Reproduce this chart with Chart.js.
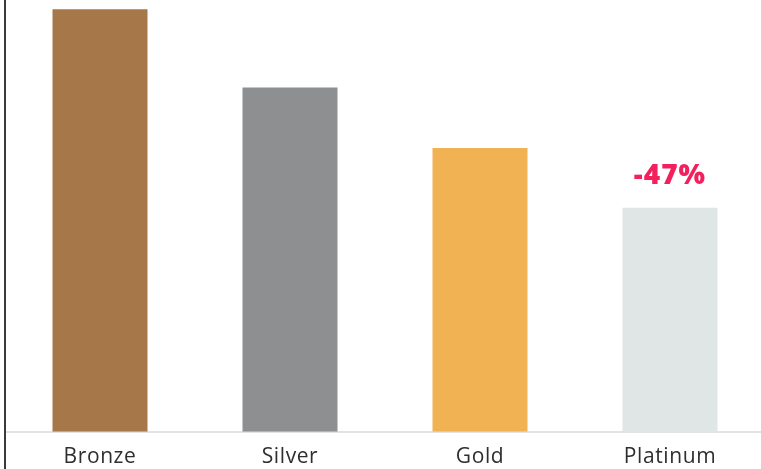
<!DOCTYPE html>
<html>
<head>
<meta charset="utf-8">
<script src="https://cdn.jsdelivr.net/npm/chart.js@4/dist/chart.umd.min.js"></script>
<style>
  html, body { margin: 0; padding: 0; background: #fff; overflow: hidden; }
  #wrap { position: relative; width: 765px; height: 483px; }
</style>
</head>
<body>
<div id="wrap"><canvas id="c"></canvas></div>
<script>
// Tier names along the x axis
const categories = ['Bronze', 'Silver', 'Gold', 'Platinum'];
// Relative level per tier (Bronze = 100)
const values = [100, 81.5, 67.2, 53];
const barColors = ['#A67849', '#8E8F91', '#F0B252', '#E0E5E5'];
// Tier whose change versus Bronze is called out
const calloutIndex = 3;

// Draws the percentage change above the called-out bar, and extends the
// left axis line down to the bottom of the canvas.
const calloutPlugin = {
  id: 'callout',
  beforeDraw(chart) {
    chart.ctx.letterSpacing = '0.6px';
  },
  afterDatasetsDraw(chart) {
    const ctx = chart.ctx;
    const meta = chart.getDatasetMeta(0);
    const bar = meta.data[calloutIndex];
    const change = Math.round((values[calloutIndex] - values[0]) / values[0] * 100);
    ctx.save();
    ctx.letterSpacing = '1px';
    ctx.font = '800 28px "Open Sans", sans-serif';
    ctx.fillStyle = '#F2215E';
    ctx.textAlign = 'center';
    ctx.textBaseline = 'middle';
    ctx.fillText((change > 0 ? '+' : '') + change + '%', bar.x, bar.y - 32);
    ctx.restore();
  },
  afterDraw(chart) {
    const ctx = chart.ctx;
    const x = chart.chartArea.left;
    ctx.save();
    ctx.strokeStyle = '#3a3a3a';
    ctx.lineWidth = 2;
    ctx.beginPath();
    ctx.moveTo(x, 0);
    ctx.lineTo(x, chart.height);
    ctx.stroke();
    ctx.restore();
  }
};

new Chart(document.getElementById('c'), {
  type: 'bar',
  data: {
    labels: categories,
    datasets: [{
      data: values,
      backgroundColor: barColors,
      borderWidth: 0,
      barPercentage: 0.5,
      categoryPercentage: 1.0
    }]
  },
  options: {
    responsive: true,
    maintainAspectRatio: false,
    animation: false,
    layout: { padding: { left: 5, right: 0, top: 0, bottom: 0 } },
    plugins: { legend: { display: false }, tooltip: { enabled: false } },
    scales: {
      x: {
        grid: { display: false, drawTicks: false },
        border: { display: true, color: '#E2E4E4', width: 2 },
        ticks: {
          color: '#2e2e2e',
          padding: 13,
          font: { family: '"Open Sans", sans-serif', size: 21 }
        }
      },
      y: {
        min: 0,
        max: 102.2,
        display: true,
        grid: { display: false, drawTicks: false },
        border: { display: false },
        ticks: { display: false }
      }
    }
  },
  plugins: [calloutPlugin]
});
</script>
</body>
</html>
